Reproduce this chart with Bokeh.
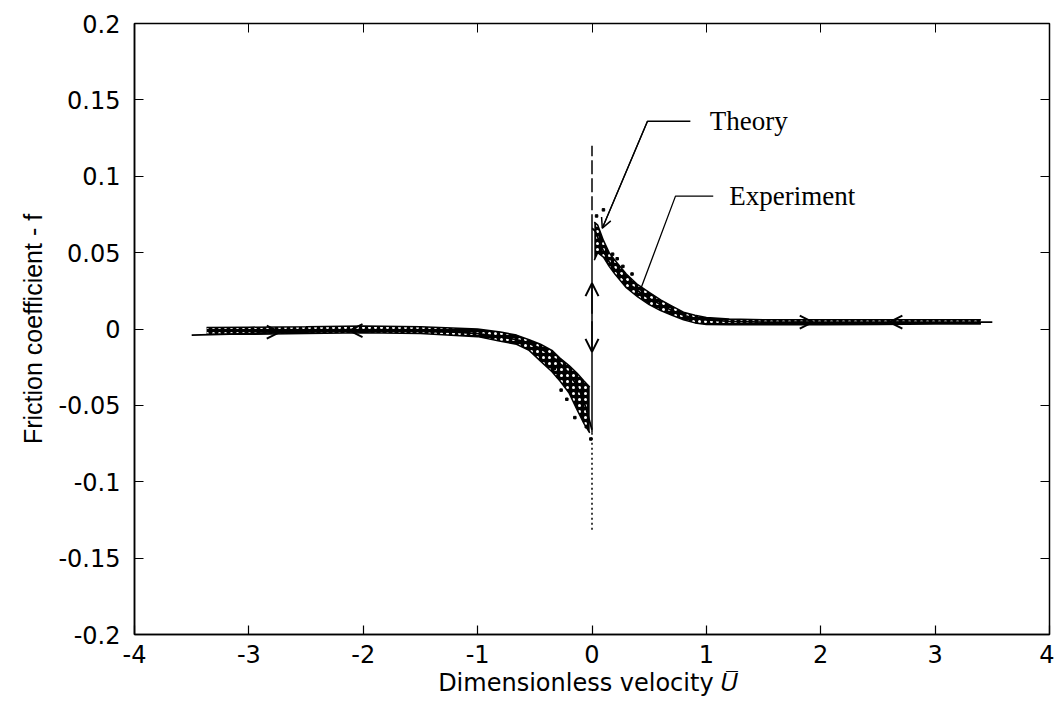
from bokeh.plotting import figure
from bokeh.models import Range1d, LinearAxis, FixedTicker, Arrow, OpenHead, Label
from bokeh.embed import file_html
from bokeh.resources import INLINE

# ---------------- data ----------------
x_ticks = [-4, -3, -2, -1, 0, 1, 2, 3, 4]
x_tick_labels = ["-4", "-3", "-2", "-1", "0", "1", "2", "3", "4"]
y_ticks = [-0.2, -0.15, -0.1, -0.05, 0, 0.05, 0.1, 0.15, 0.2]
y_tick_labels = ["-0.2", "-0.15", "-0.1", "-0.05", "0", "0.05", "0.1", "0.15", "0.2"]

# theory curve, positive velocity branch
theory_pos_u = [0.0, 0.03, 0.06, 0.1, 0.15, 0.2, 0.3, 0.4, 0.5, 0.6, 0.7, 0.8, 0.9, 1.0, 1.2, 1.5, 2.0, 2.5, 3.0, 3.5]
theory_pos_f = [0.066, 0.064, 0.058, 0.051, 0.044, 0.039, 0.031, 0.025, 0.020, 0.016, 0.012, 0.009, 0.007, 0.006, 0.005, 0.0045, 0.0045, 0.0045, 0.0045, 0.0045]
# theory curve, negative velocity branch
theory_neg_u = [-3.5, -3.0, -2.5, -2.0, -1.5, -1.2, -1.0, -0.8, -0.6, -0.5, -0.4, -0.3, -0.2, -0.15, -0.1, -0.06, -0.03, 0.0]
theory_neg_f = [-0.004, -0.003, -0.002, -0.001, -0.0015, -0.002, -0.003, -0.005, -0.008, -0.011, -0.015, -0.021, -0.029, -0.035, -0.042, -0.05, -0.058, -0.066]
# theory jump at zero velocity
theory_jump_u = [0.0, 0.0]
theory_jump_f = [-0.068, 0.066]

# experiment band, positive branch (upper / lower edge)
exp_pos_u = [0.02, 0.05, 0.1, 0.15, 0.2, 0.3, 0.4, 0.5, 0.6, 0.7, 0.8, 0.9, 1.0, 1.2, 1.5, 2.0, 2.5, 3.0, 3.4]
exp_pos_hi = [0.070, 0.068, 0.058, 0.050, 0.045, 0.036, 0.029, 0.024, 0.019, 0.015, 0.011, 0.009, 0.0075, 0.0065, 0.006, 0.006, 0.006, 0.006, 0.006]
exp_pos_lo = [0.045, 0.050, 0.047, 0.041, 0.036, 0.027, 0.021, 0.016, 0.012, 0.009, 0.006, 0.004, 0.003, 0.0028, 0.0028, 0.0028, 0.003, 0.0032, 0.0032]
# experiment band, negative branch
exp_neg_u = [-3.37, -3.0, -2.5, -2.0, -1.5, -1.0, -0.8, -0.66, -0.55, -0.45, -0.35, -0.28, -0.2, -0.13, -0.07, -0.02]
exp_neg_hi = [0.001, 0.0012, 0.0015, 0.002, 0.0015, 0.0, -0.002, -0.004, -0.007, -0.010, -0.014, -0.019, -0.024, -0.029, -0.034, -0.038]
exp_neg_lo = [-0.0035, -0.0035, -0.003, -0.0025, -0.003, -0.005, -0.008, -0.010, -0.014, -0.021, -0.028, -0.034, -0.042, -0.053, -0.062, -0.068]
# scattered experimental points
exp_dot_u = [-0.33, -0.3, -0.27, -0.22, -0.15, -0.05, -0.01, 0.1, 0.18, 0.22, 0.27, 0.35, 0.04]
exp_dot_f = [-0.026, -0.031, -0.040, -0.046, -0.058, -0.064, -0.072, 0.078, 0.049, 0.046, 0.041, 0.036, 0.074]

# zero-velocity reference line (dashed above, dotted below)
zero_dash_f = [0.066, 0.12]
zero_dot_f = [-0.068, -0.132]

# direction arrows along the theory curve: (u_start, f_start, u_end, f_end)
arrow_u0 = [-2.9, -1.95, 1.76, 2.77, 0.0, 0.0]
arrow_f0 = [-0.002, -0.001, 0.0045, 0.0045, 0.010, 0.005]
arrow_u1 = [-2.73, -2.12, 1.93, 2.6, 0.0, 0.0]
arrow_f1 = [-0.002, -0.001, 0.0045, 0.0045, 0.030, -0.015]

# annotation leaders
theory_leader_u = [0.86, 0.485, 0.09]
theory_leader_f = [0.136, 0.136, 0.066]
exp_leader_u = [1.06, 0.73, 0.42]
exp_leader_f = [0.087, 0.087, 0.025]

# ---------------- figure ----------------
p = figure(width=1054, height=707, x_range=Range1d(-4, 4), y_range=Range1d(-0.2, 0.2),
           output_backend="svg", toolbar_location=None,
           min_border_left=134, min_border_right=5, min_border_top=23, min_border_bottom=73)
p.background_fill_color = "white"
p.border_fill_color = "white"
p.xgrid.visible = False
p.ygrid.visible = False
p.outline_line_color = "black"
p.outline_line_width = 1.5

TICK_FONT = "DejaVu Sans"
for ax in p.xaxis:
    ax.ticker = FixedTicker(ticks=x_ticks)
    ax.major_label_overrides = dict(zip(x_ticks, x_tick_labels))
for ax in p.yaxis:
    ax.ticker = FixedTicker(ticks=y_ticks)
    ax.major_label_overrides = dict(zip(y_ticks, y_tick_labels))
for ax in list(p.xaxis) + list(p.yaxis):
    ax.major_tick_in = 9
    ax.major_tick_out = 0
    ax.minor_tick_line_color = None
    ax.axis_line_color = "black"
    ax.axis_line_width = 1.5
    ax.major_tick_line_color = "black"
    ax.major_tick_line_width = 1.2
    ax.major_label_text_font = TICK_FONT
    ax.major_label_text_font_size = "24px"
    ax.major_label_text_color = "black"
    ax.axis_label_text_color = "black"
    ax.axis_label_text_font_style = "normal"
p.xaxis.major_label_standoff = 10
p.yaxis.major_label_standoff = 14
p.yaxis.axis_label = "Friction coefficient - f"
p.yaxis.axis_label_text_font = "Liberation Sans"
p.yaxis.axis_label_text_font_size = "25px"
p.yaxis.axis_label_standoff = 8
p.xaxis.axis_label = "Dimensionless velocity  \U0001D448\u0305"
p.xaxis.axis_label_text_font = "DejaVu Sans"
p.xaxis.axis_label_text_font_size = "24px"
p.xaxis.axis_label_standoff = 3

# mirrored ticks on top and right
top = LinearAxis(ticker=FixedTicker(ticks=x_ticks), major_tick_in=9, major_tick_out=0,
                 minor_tick_line_color=None, major_label_text_font_size="0px",
                 major_label_standoff=0, axis_line_color="black")
right = LinearAxis(ticker=FixedTicker(ticks=y_ticks), major_tick_in=9, major_tick_out=0,
                   minor_tick_line_color=None, major_label_text_font_size="0px",
                   major_label_standoff=0, axis_line_color="black")
p.add_layout(top, "above")
p.add_layout(right, "right")

# experiment band
p.varea(x=exp_pos_u, y1=exp_pos_lo, y2=exp_pos_hi, fill_color="black",
        hatch_pattern="dot", hatch_color="white", hatch_scale=6, hatch_weight=1.0)
p.varea(x=exp_neg_u, y1=exp_neg_lo, y2=exp_neg_hi, fill_color="black",
        hatch_pattern="dot", hatch_color="white", hatch_scale=6, hatch_weight=1.0)
for hi, lo, uu in [(exp_pos_hi, exp_pos_lo, exp_pos_u), (exp_neg_hi, exp_neg_lo, exp_neg_u)]:
    p.line(uu, hi, line_color="black", line_width=1.5)
    p.line(uu, lo, line_color="black", line_width=1.5)
p.scatter(exp_dot_u, exp_dot_f, marker="square", size=2.5, color="black")

# theory
p.line(theory_pos_u, theory_pos_f, line_color="black", line_width=1.8)
p.line(theory_neg_u, theory_neg_f, line_color="black", line_width=1.8)
p.line(theory_jump_u, theory_jump_f, line_color="black", line_width=1.5)
p.line([0, 0], zero_dash_f, line_color="black", line_width=1.5, line_dash="14 4")
p.line([0, 0], zero_dot_f, line_color="black", line_width=1.5, line_dash="2 3")

for u0, f0, u1, f1 in zip(arrow_u0, arrow_f0, arrow_u1, arrow_f1):
    p.add_layout(Arrow(x_start=u0, y_start=f0, x_end=u1, y_end=f1,
                       line_color="black", line_width=1.5,
                       end=OpenHead(size=13, line_width=2, line_color="black")))

# annotation leaders
p.line(theory_leader_u, theory_leader_f, line_color="black", line_width=1.3)
p.line(exp_leader_u, exp_leader_f, line_color="black", line_width=1.3)
p.add_layout(Arrow(x_start=theory_leader_u[1], y_start=theory_leader_f[1],
                   x_end=theory_leader_u[2], y_end=theory_leader_f[2],
                   line_color="black", line_width=1.3,
                   end=OpenHead(size=10, line_width=1.5, line_color="black")))

p.add_layout(Label(x=1.03, y=0.136, text="Theory", text_font="Liberation Serif",
                   text_font_size="27px", text_baseline="middle", text_color="black"))
p.add_layout(Label(x=1.2, y=0.087, text="Experiment", text_font="Liberation Serif",
                   text_font_size="27px", text_baseline="middle", text_color="black"))

open("out.html", "w").write(file_html(p, INLINE))
